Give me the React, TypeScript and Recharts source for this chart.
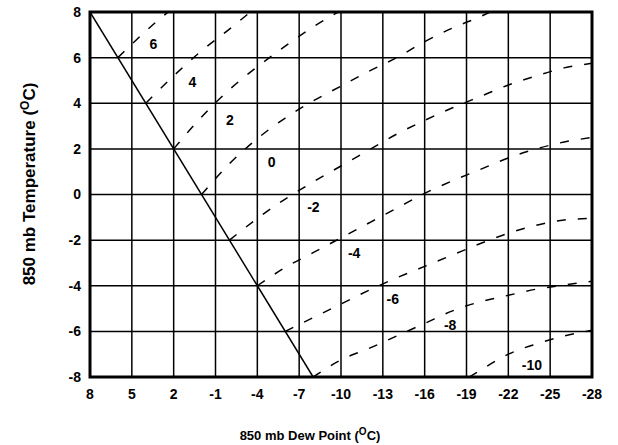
import React from 'react';
import {
  LineChart,
  Line,
  XAxis,
  YAxis,
  CartesianGrid,
  ReferenceArea,
  ReferenceDot,
} from 'recharts';

// x = 850 mb dew point, y = 850 mb temperature
const dewTicks = [8, 5, 2, -1, -4, -7, -10, -13, -16, -19, -22, -25, -28];
const tempTicks = [-8, -6, -4, -2, 0, 2, 4, 6, 8];

const saturation = [
  { td: 8, t: 8 },
  { td: -8, t: -8 },
];

const curve6 = [
  { td: 6, t: 6 },
  { td: 4.2, t: 7.05 },
  { td: 3, t: 7.7 },
  { td: 2.4, t: 8 },
];
const curve4 = [
  { td: 4, t: 4 },
  { td: 2, t: 5.2 },
  { td: 0, t: 6.3 },
  { td: -2, t: 7.25 },
  { td: -3.5, t: 8 },
];
const curve2 = [
  { td: 2, t: 2 },
  { td: 0, t: 3.4 },
  { td: -2, t: 4.6 },
  { td: -4, t: 5.6 },
  { td: -6, t: 6.5 },
  { td: -8, t: 7.35 },
  { td: -9.8, t: 8 },
];
const curve0 = [
  { td: 0, t: 0 },
  { td: -2, t: 1.35 },
  { td: -4, t: 2.45 },
  { td: -6, t: 3.35 },
  { td: -8, t: 4.1 },
  { td: -10, t: 4.75 },
  { td: -12, t: 5.4 },
  { td: -14, t: 6.0 },
  { td: -16, t: 6.7 },
  { td: -18, t: 7.3 },
  { td: -20, t: 7.8 },
  { td: -20.7, t: 8 },
];
const curveM2 = [
  { td: -2, t: -2 },
  { td: -4, t: -1.05 },
  { td: -6, t: -0.2 },
  { td: -8, t: 0.55 },
  { td: -10, t: 1.25 },
  { td: -12, t: 1.95 },
  { td: -14, t: 2.65 },
  { td: -16, t: 3.25 },
  { td: -18, t: 3.8 },
  { td: -20, t: 4.3 },
  { td: -22, t: 4.8 },
  { td: -24, t: 5.2 },
  { td: -26, t: 5.55 },
  { td: -28, t: 5.75 },
];
const curveM4 = [
  { td: -4, t: -4 },
  { td: -6, t: -3.2 },
  { td: -8, t: -2.55 },
  { td: -10, t: -1.9 },
  { td: -12, t: -1.25 },
  { td: -14, t: -0.6 },
  { td: -16, t: 0.05 },
  { td: -18, t: 0.6 },
  { td: -20, t: 1.1 },
  { td: -22, t: 1.6 },
  { td: -24, t: 2.0 },
  { td: -26, t: 2.3 },
  { td: -28, t: 2.5 },
];
const curveM6 = [
  { td: -6, t: -6 },
  { td: -8, t: -5.4 },
  { td: -10, t: -4.8 },
  { td: -12, t: -4.2 },
  { td: -14, t: -3.65 },
  { td: -16, t: -3.15 },
  { td: -18, t: -2.65 },
  { td: -20, t: -2.15 },
  { td: -22, t: -1.7 },
  { td: -24, t: -1.35 },
  { td: -26, t: -1.12 },
  { td: -28, t: -1.05 },
];
const curveM8 = [
  { td: -8, t: -8 },
  { td: -10, t: -7.25 },
  { td: -12, t: -6.75 },
  { td: -14, t: -6.2 },
  { td: -16, t: -5.65 },
  { td: -18, t: -5.1 },
  { td: -20, t: -4.7 },
  { td: -22, t: -4.42 },
  { td: -24, t: -4.15 },
  { td: -26, t: -3.97 },
  { td: -28, t: -3.8 },
];
const curveM10 = [
  { td: -19.2, t: -8 },
  { td: -20, t: -7.7 },
  { td: -22, t: -7.0 },
  { td: -24, t: -6.55 },
  { td: -26, t: -6.2 },
  { td: -28, t: -5.95 },
];

const curves = [curve6, curve4, curve2, curve0, curveM2, curveM4, curveM6, curveM8, curveM10];

const curveLabels = [
  { text: '6', td: 3.46, t: 6.58 },
  { text: '4', td: 0.66, t: 4.92 },
  { text: '2', td: -2.04, t: 3.27 },
  { text: '0', td: -5.03, t: 1.44 },
  { text: '-2', td: -8.02, t: -0.56 },
  { text: '-4', td: -10.94, t: -2.58 },
  { text: '-6', td: -13.71, t: -4.58 },
  { text: '-8', td: -17.83, t: -5.72 },
  { text: '-10', td: -23.69, t: -7.47 },
];

const FONT = 'Liberation Sans, Arial, Helvetica, sans-serif';
const tickStyle = { fill: '#000', fontSize: 14, fontWeight: 700, fontFamily: FONT };

const XTitle = () => (
  <text x={310} y={440} textAnchor="middle" fontSize={13} fontWeight={700} fontFamily={FONT} fill="#000">
    850 mb Dew Point (<tspan dy={-5} fontSize={10}>O</tspan><tspan dy={5}>C)</tspan>
  </text>
);

const YTitle = () => (
  <text
    x={0}
    y={0}
    transform="translate(35,184) rotate(-90)"
    textAnchor="middle"
    fontSize={17}
    fontWeight={700}
    fontFamily={FONT}
    fill="#000"
  >
    850 mb Temperature (<tspan dy={-6} fontSize={12}>O</tspan><tspan dy={6}>C)</tspan>
  </text>
);

export default function App() {
  return (
    <div style={{ position: 'absolute', left: 0, top: 0, width: 618, height: 445, background: '#fff' }}>
      <LineChart width={618} height={445} margin={{ top: 12, right: 26, bottom: 38, left: 0 }}>
        <CartesianGrid stroke="#000" strokeWidth={1.5} horizontalValues={tempTicks} verticalValues={dewTicks} />
        <XAxis
          type="number"
          dataKey="td"
          domain={[-28, 8]}
          reversed
          ticks={dewTicks}
          interval={0}
          height={30}
          axisLine={false}
          tickLine={false}
          tickSize={0}
          tickMargin={12}
          tick={tickStyle}
          allowDataOverflow
          label={{ content: () => <XTitle /> }}
        />
        <YAxis
          type="number"
          dataKey="t"
          domain={[-8, 8]}
          ticks={tempTicks}
          interval={0}
          width={90}
          axisLine={false}
          tickLine={false}
          tickSize={0}
          tickMargin={9}
          tick={tickStyle}
          allowDataOverflow
          label={{ content: () => <YTitle /> }}
        />
        <ReferenceArea x1={8} x2={-28} y1={-8} y2={8} fill="none" stroke="#000" strokeWidth={3} />
        <Line
          data={saturation}
          dataKey="t"
          stroke="#000"
          strokeWidth={1.5}
          dot={false}
          isAnimationActive={false}
        />
        {curves.map((c, i) => (
          <Line
            key={i}
            data={c}
            dataKey="t"
            type="monotone"
            stroke="#000"
            strokeWidth={1.5}
            strokeDasharray="9 12"
            dot={false}
            isAnimationActive={false}
          />
        ))}
        {curveLabels.map((l) => (
          <ReferenceDot
            key={l.text}
            x={l.td}
            y={l.t}
            r={0}
            fill="none"
            stroke="none"
            label={{ value: l.text, position: 'center', fill: '#000', fontSize: 14, fontWeight: 700, fontFamily: FONT }}
          />
        ))}
      </LineChart>
    </div>
  );
}
